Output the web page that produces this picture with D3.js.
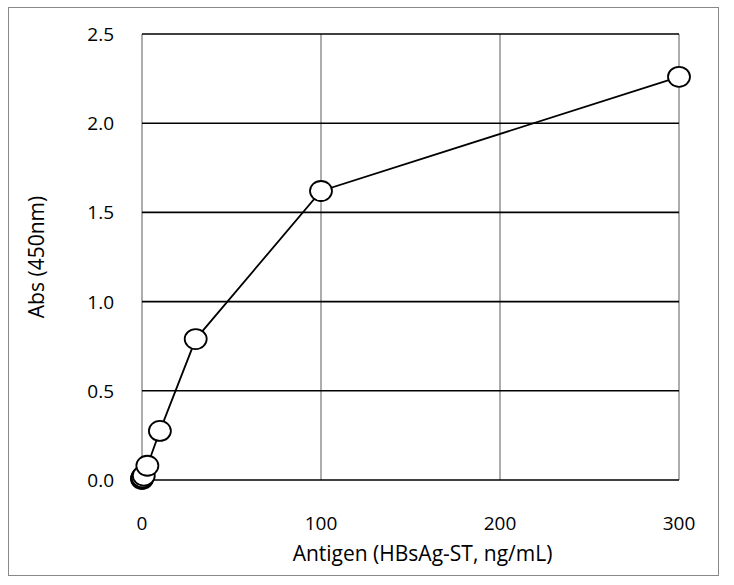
<!DOCTYPE html><html><head><script src="https://cdn.jsdelivr.net/npm/d3@7"></script>
<style>body{margin:0;background:#fff}</style></head><body><svg id="c" width="734" height="585"></svg>
<script>
const xVals=[0,0.1,0.3,1,3,10,30,100,300];
const yVals=[0.005,0.01,0.015,0.025,0.08,0.275,0.79,1.62,2.26];
const xTicks=[0,100,200,300];
const yTicks=[0,0.5,1.0,1.5,2.0,2.5];
const svg=d3.select("#c");
const font="'Open Sans', 'Liberation Sans', sans-serif";
svg.append("rect").attr("x",8.5).attr("y",7.5).attr("width",710).attr("height",568).attr("fill","none").attr("stroke","#888");
const x=d3.scaleLinear().domain([0,300]).range([142,679]);
const y=d3.scaleLinear().domain([0,2.5]).range([480,34]);
svg.append("g").selectAll("line").data(xTicks).join("line").attr("x1",d=>x(d)).attr("x2",d=>x(d)).attr("y1",y(0)).attr("y2",y(2.5)).attr("stroke","#999").attr("stroke-width",1.6);
svg.append("g").selectAll("line").data(yTicks).join("line").attr("x1",x(0)).attr("x2",x(300)).attr("y1",d=>y(d)).attr("y2",d=>y(d)).attr("stroke","#000").attr("stroke-width",1.6);
svg.append("g").selectAll("text").data(yTicks).join("text").attr("x",114).attr("y",d=>y(d)+7).attr("text-anchor","end").attr("font-family",font).attr("font-size",19).text(d=>d.toFixed(1));
svg.append("g").selectAll("text").data(xTicks).join("text").attr("x",d=>x(d)).attr("y",530).attr("text-anchor","middle").attr("font-family",font).attr("font-size",19).text(d=>d);
svg.append("text").attr("x",x(150)+12).attr("y",561).attr("text-anchor","middle").attr("font-family",font).attr("font-size",21).text("Antigen (HBsAg-ST, ng/mL)");
svg.append("text").attr("transform","translate(44,257) rotate(-90)").attr("text-anchor","middle").attr("font-family",font).attr("font-size",21).text("Abs (450nm)");
const pts=xVals.map((v,i)=>[v,yVals[i]]);
svg.append("path").datum(pts).attr("d",d3.line().x(d=>x(d[0])).y(d=>y(d[1]))).attr("fill","none").attr("stroke","#000").attr("stroke-width",1.8);
svg.append("g").selectAll("ellipse").data(pts).join("ellipse").attr("cx",d=>x(d[0])).attr("cy",d=>y(d[1])).attr("rx",11).attr("ry",10).attr("fill","#fff").attr("stroke","#000").attr("stroke-width",1.8);
</script></body></html>
